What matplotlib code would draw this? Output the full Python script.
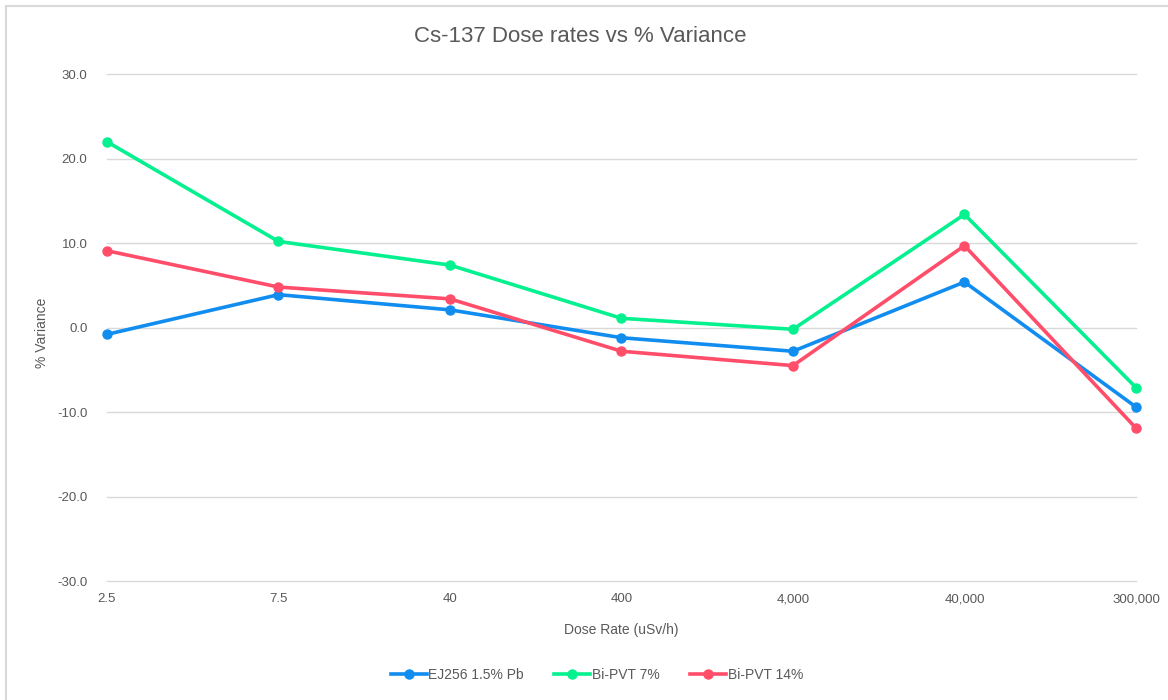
import matplotlib
matplotlib.use("Agg")
from matplotlib import pyplot as plt
from matplotlib.patches import Rectangle

plt.rcParams['font.family'] = ['Liberation Sans', 'DejaVu Sans']

dose_rates = ['2.5', '7.5', '40', '400', '4,000', '40,000', '300,000']
ej256 = [-0.8, 3.9, 2.1, -1.2, -2.8, 5.4, -9.4]
bipvt7 = [22.0, 10.2, 7.4, 1.1, -0.2, 13.4, -7.1]
bipvt14 = [9.1, 4.8, 3.4, -2.8, -4.5, 9.7, -11.9]

grey = '#595959'

fig = plt.figure(figsize=(11.68, 7.0), dpi=100)
ax = fig.add_axes([0.0916, 0.17, 0.881, 0.724])

x = range(len(dose_rates))
ax.plot(x, ej256, color='#118DF0', lw=2.6, marker='o', ms=6.5, label='EJ256 1.5% Pb', clip_on=False)
ax.plot(x, bipvt7, color='#05F08F', lw=2.6, marker='o', ms=6.5, label='Bi-PVT 7%', clip_on=False)
ax.plot(x, bipvt14, color='#FF4D6A', lw=2.6, marker='o', ms=6.5, label='Bi-PVT 14%', clip_on=False)

ax.set_xlim(0, len(dose_rates) - 1)
ax.set_ylim(-30, 30)
ax.set_yticks(range(-30, 31, 10))
ax.set_yticklabels(['%.1f' % v for v in range(-30, 31, 10)])
ax.set_xticks(list(x))
ax.set_xticklabels(dose_rates)
for v in range(-30, 31, 10):
    ax.axhline(v, color='#D9D9D9', lw=1, zorder=0, clip_on=False)
for s in ax.spines.values():
    s.set_visible(False)
ax.tick_params(length=0, colors=grey, labelsize=9.5)
ax.tick_params(axis='y', pad=14)
ax.tick_params(axis='x', pad=9)

fig.text(0.497, 1 - 37 / 700, 'Cs-137 Dose rates vs % Variance', color=grey, fontsize=16,
         ha='center', va='center')
ax.set_xlabel('Dose Rate (uSv/h)', color=grey, fontsize=10)
ax.xaxis.set_label_coords(0.5, -0.097)
ax.xaxis.label.set_va('center')
ax.set_ylabel('% Variance', color=grey, fontsize=10)
ax.yaxis.set_label_coords(-0.063, 0.49)
ax.yaxis.label.set_va('center')

ax.legend(loc='center', bbox_to_anchor=(0.476, -0.185), ncol=3, frameon=False,
          fontsize=10, labelcolor=grey, handlelength=2.6, handletextpad=0.1,
          columnspacing=2.2)

fig.patches.append(Rectangle((6 / 1168, -0.02), 1.05, 1 - 6 / 700 + 0.02, transform=fig.transFigure,
                             fill=False, edgecolor='#D9D9D9', lw=1.5))

fig.savefig('out.png', dpi=100)
